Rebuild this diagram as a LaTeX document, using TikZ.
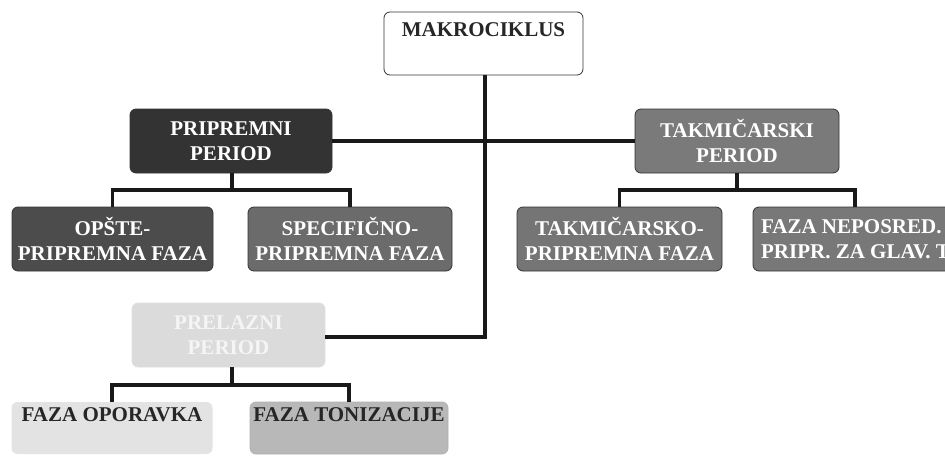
\documentclass[tikz,border=0pt]{standalone}
\usepackage{fontspec}
\setmainfont{Liberation Serif}
\begin{document}
\begin{tikzpicture}[x=1pt,y=-1pt,
  lbl/.style={font=\bfseries\fontsize{21}{25}\selectfont},
  box/.style={draw=black!80, line width=0.8pt, rounded corners=6pt, inner sep=0pt,
    lbl, align=center, text=white},
  conn/.style={draw=black!90, line width=3.2pt}
]
\useasboundingbox (0,0) rectangle (945,463);
\fill[white] (0,0) rectangle (945,463);
\begin{scope}
\clip (0,0) rectangle (945,463);
\node[box, fill=white, minimum width=199pt, minimum height=63pt,
  label={[anchor=north, lbl, text=black!85, yshift=-7pt]north:MAKROCIKLUS}]
  (mak) at (483.5,43.5) {};
\node[box, fill=black!80, minimum width=202pt, minimum height=64pt] (prip) at (231,141) {PRIPREMNI\\PERIOD};
\node[box, fill=black!52, minimum width=204pt, minimum height=64pt] (takm) at (737,141) {TAKMIČARSKI\\PERIOD};
\node[box, fill=black!70, minimum width=201pt, minimum height=64pt] (opste) at (112.5,239) {OPŠTE-\\PRIPREMNA FAZA};
\node[box, fill=black!58, minimum width=204pt, minimum height=64pt] (spec) at (350,239) {SPECIFIČNO-\\PRIPREMNA FAZA};
\node[box, fill=black!54, minimum width=205pt, minimum height=64pt] (takmo) at (619.5,239) {TAKMIČARSKO-\\PRIPREMNA FAZA};
\node[box, fill=black!53, minimum width=204pt, minimum height=64pt,
  label={[anchor=west, align=left, lbl, text=white, xshift=5pt]west:FAZA NEPOSRED.\\PRIPR. ZA GLAV. TAKM.}]
  (nep) at (855,239) {};
\node[box, draw=black!12, fill=black!14, text=black!4, minimum width=193pt, minimum height=64pt] (prel) at (228.5,335) {PRELAZNI\\PERIOD};
\node[box, draw=none, fill=black!11, minimum width=201pt, minimum height=52pt,
  label={[anchor=north, lbl, text=black!85, yshift=-2pt]north:FAZA OPORAVKA}]
  (opor) at (112,428) {};
\node[box, draw=black!30, fill=black!28, minimum width=198pt, minimum height=52pt,
  label={[anchor=north, lbl, text=black!85, yshift=-2pt]north:FAZA TONIZACIJE}]
  (toni) at (349,428) {};
\end{scope}
% connectors
\coordinate (mdown) at (485,337);
\draw[conn] (mak.south -| mdown) -- (mdown) -- (prel.east |- mdown);
\draw[conn] (prip.east) -- (takm.west);
\coordinate (pj) at (232,190);
\draw[conn] (prip.south -| pj) -- (pj);
\draw[conn] (opste.north) |- (pj) -| (spec.north);
\coordinate (tj) at (737,190);
\draw[conn] (takm.south) -- (tj);
\draw[conn] (takmo.north) |- (tj) -| (nep.north);
\coordinate (lj) at (232,385);
\draw[conn] (prel.south -| lj) -- (lj);
\draw[conn] (opor.north) |- (lj) -| (toni.north);
\end{tikzpicture}
\end{document}
